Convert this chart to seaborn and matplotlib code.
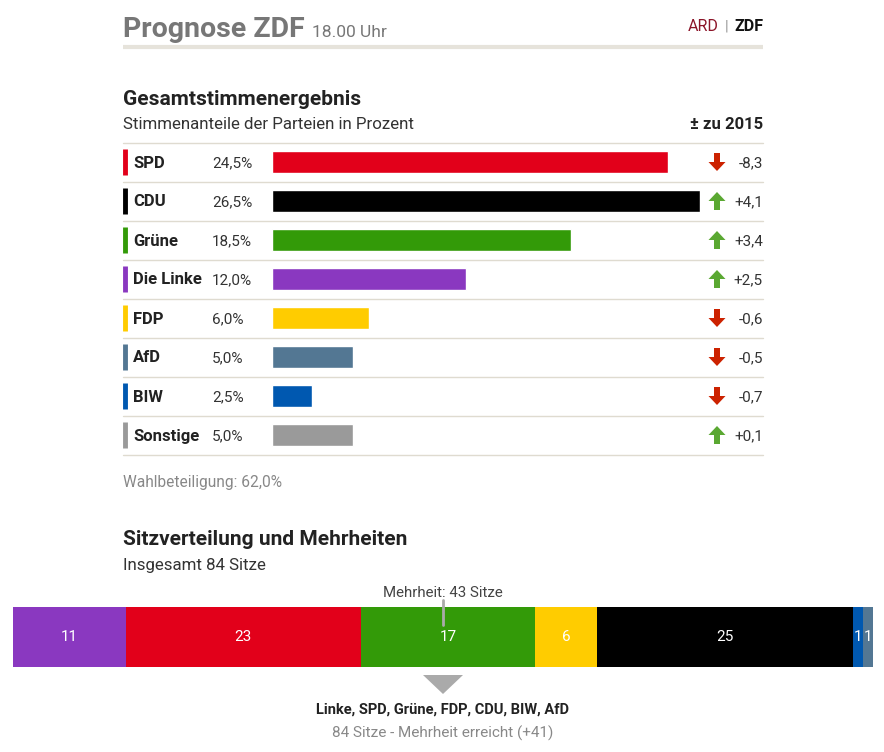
import numpy as np
import pandas as pd
import seaborn as sns
import matplotlib.pyplot as plt
from matplotlib.patches import Polygon, FancyArrow

# --- data ---
parties = ['SPD', 'CDU', 'Grüne', 'Die Linke', 'FDP', 'AfD', 'BIW', 'Sonstige']
shares = [24.5, 26.5, 18.5, 12.0, 6.0, 5.0, 2.5, 5.0]
changes = [-8.3, 4.1, 3.4, 2.5, -0.6, -0.5, -0.7, 0.1]
party_colors = ['#e2001a', '#000000', '#339a08', '#8a38c0',
                '#ffcc00', '#537793', '#0058b0', '#9a9a9a']

seat_parties = ['Linke', 'SPD', 'Grüne', 'FDP', 'CDU', 'BIW', 'AfD']
seats = [11, 23, 17, 6, 25, 1, 1]
seat_colors = ['#8a38c0', '#e2001a', '#339a08', '#ffcc00', '#000000', '#0058b0', '#537793']

turnout = 62.0
total_seats = 84
majority = 43

W, H = 884, 752

sns.set_theme(style='white')
plt.rcParams['font.family'] = ['Roboto', 'DejaVu Sans']


def de(v, fmt='{:.1f}'):
    return fmt.format(v).replace('.', ',')


def px_axes(fig, x0, y0, x1, y1):
    return fig.add_axes([x0 / W, 1 - y1 / H, (x1 - x0) / W, (y1 - y0) / H])


fig = plt.figure(figsize=(W / 100, H / 100), dpi=100)

# canvas in pixel coords for text and rules
cv = fig.add_axes([0, 0, 1, 1])
cv.set_xlim(0, W)
cv.set_ylim(H, 0)
cv.axis('off')

# --- header ---
cv.text(123, 37, 'Prognose ZDF', fontweight='bold', fontsize=20.5,
        color='#777777', va='baseline')
cv.text(312, 37, '18.00 Uhr', fontsize=12.5, color='#777777', va='baseline')
cv.text(763, 31, 'ZDF', fontweight='bold', fontsize=11.5,
        color='#111111', va='baseline', ha='right')
cv.text(727, 31, '|', fontsize=11, color='#999999', va='baseline', ha='center')
cv.text(719, 31, 'ARD', fontsize=11.5, color='#8b1428',
        va='baseline', ha='right')
cv.plot([123, 763], [47, 47], color='#e6e3db', lw=3, solid_capstyle='butt')

# --- vote share section ---
cv.text(123, 105, 'Gesamtstimmenergebnis', fontweight='bold', fontsize=15,
        color='#222222', va='baseline')
cv.text(123, 129, 'Stimmenanteile der Parteien in Prozent', fontsize=12.2,
        color='#333333', va='baseline')
cv.text(763, 129, '± zu 2015', fontweight='bold', fontsize=12, color='#222222',
        va='baseline', ha='right')

row_top, row_h = 142.5, 39
for i in range(len(parties) + 1):
    y = row_top + i * row_h
    cv.plot([123, 763], [y, y], color='#dfdbd0', lw=1)

for i, (p, s, c, col) in enumerate(zip(parties, shares, changes, party_colors)):
    yc = row_top + row_h * (i + 0.5)
    cv.plot([125, 125], [yc - 13, yc + 13], color=col, lw=3.5, solid_capstyle='butt')
    cv.text(133, yc + 1, p, fontweight='bold', fontsize=12, color='#222222', va='center')
    cv.text(212, yc + 1, de(s) + '%', fontsize=11, color='#333333', va='center')
    cv.text(763, yc + 1, de(c, '{:+.1f}'), fontsize=11, color='#333333',
            va='center', ha='right')
    # trend arrow
    up = c > 0
    acol = '#5aa832' if up else '#cc2200'
    if up:
        arr = FancyArrow(717, yc + 9, 0, -18, width=6, head_width=17, head_length=9,
                         length_includes_head=True, color=acol, lw=0)
    else:
        arr = FancyArrow(717, yc - 9, 0, 18, width=6, head_width=17, head_length=9,
                         length_includes_head=True, color=acol, lw=0)
    cv.add_patch(arr)

df = pd.DataFrame({'party': parties, 'share': shares})
ax = px_axes(fig, 272, row_top, 700, row_top + row_h * len(parties))
sns.barplot(data=df, x='share', y='party', hue='party', palette=party_colors,
            order=parties, hue_order=parties, orient='h', width=22 / 39,
            legend=False, ax=ax, saturation=1)
ax.set_xlim(0, max(shares))
ax.set_ylim(len(parties) - 0.5, -0.5)
ax.axis('off')
ax.patch.set_visible(False)

cv.text(123, 487, f'Wahlbeteiligung: {de(turnout)}%', fontsize=11.2,
        color='#888888', va='baseline')

# --- seats section ---
cv.text(123, 545, 'Sitzverteilung und Mehrheiten', fontweight='bold', fontsize=15,
        color='#222222', va='baseline')
cv.text(123, 570, f'Insgesamt {total_seats} Sitze', fontsize=12.2,
        color='#333333', va='baseline')

sx = px_axes(fig, 13, 607, 873, 667)
lefts = np.concatenate([[0], np.cumsum(seats)[:-1]])
sx.barh([0] * len(seats), seats, left=lefts, color=seat_colors, height=1, linewidth=0)
for l, n in zip(lefts, seats):
    sx.text(l + n / 2, 0, str(n), color='white', fontsize=11, ha='center', va='center')
sx.set_xlim(0, total_seats)
sx.set_ylim(-0.5, 0.5)
sx.axis('off')

mx = 13 + (total_seats / 2) / total_seats * 860
cv.text(mx, 597, f'Mehrheit: {majority} Sitze', fontsize=10.8, color='#444444',
        ha='center', va='baseline')
cv.plot([mx, mx], [600, 607], color='#aaaaaa', lw=2, zorder=5)
sx.plot([total_seats / 2, total_seats / 2], [0.5, 0.2], color='#aaaaaa', lw=2, zorder=5)

cv.add_patch(Polygon([[mx - 20, 675], [mx + 20, 675], [mx, 694]], closed=True,
                     color='#aaaaaa', lw=0))
cv.text(mx, 714, ', '.join(seat_parties), fontweight='bold', fontsize=10.5,
        color='#222222', ha='center', va='baseline')
cv.text(mx, 738, f'{sum(seats)} Sitze - Mehrheit erreicht (+{sum(seats) - majority})',
        fontsize=11, color='#888888', ha='center', va='baseline')

fig.savefig('out.png', dpi=100)
